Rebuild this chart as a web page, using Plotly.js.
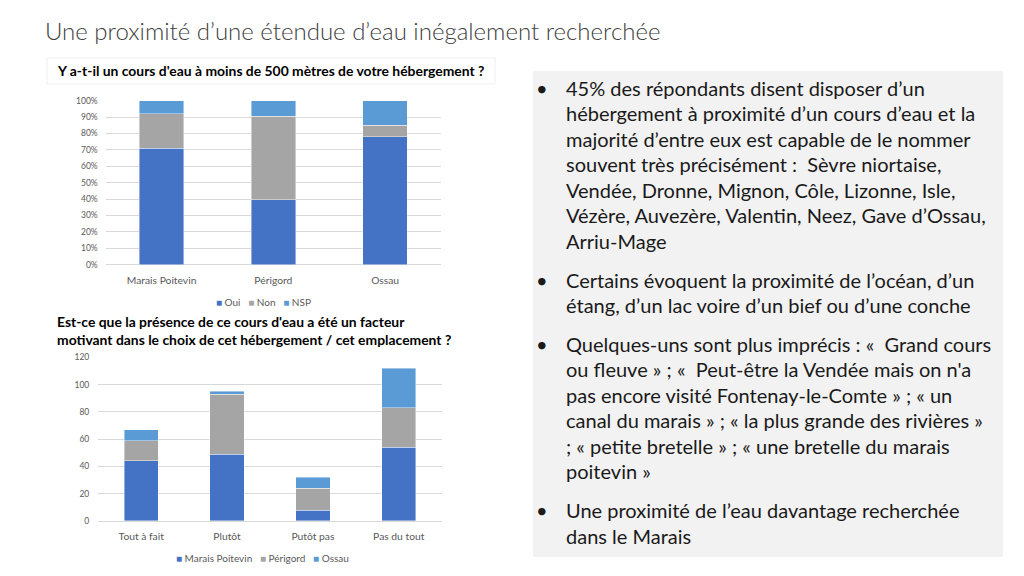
<!DOCTYPE html>
<html><head><meta charset="utf-8">
<script src="https://cdn.plot.ly/plotly-3.0.1.min.js"></script>
<style>html,body{margin:0;padding:0;background:#fff}#chart{width:1024px;height:576px}</style>
</head><body><div id="chart"></div>
<script>
// Chart 1: proximity of a watercourse (share of respondents)
const regions = ['Marais Poitevin', 'Périgord', 'Ossau'];
const oui = [0.71, 0.395, 0.78];
const non = [0.21, 0.51, 0.07];
const nsp = [0.08, 0.095, 0.15];
const answers1 = ['Oui', 'Non', 'NSP'];

// Chart 2: was it a motivating factor (counts)
const answers = ['Tout à fait', 'Plutôt', 'Putôt pas', 'Pas du tout'];
const marais = [44, 49, 8, 54];
const perigord = [15, 44, 16, 29];
const ossau = [8, 2, 8, 29];

const BLUE = '#4472C4', GRAY = '#A5A5A5', LBLUE = '#5B9BD5';
const COLORS = [BLUE, GRAY, LBLUE];
const FONT = 'Lato, "Open Sans", sans-serif';
const W = 1024, H = 576;
const px = x => x / W, py = y => 1 - y / H;

const s1 = [oui, non, nsp];
const s2 = [marais, perigord, ossau];
const traces = [];
const segLine = {color:'rgba(255,255,255,0.7)', width:0.6};
s1.forEach((v, i) => traces.push({type:'bar', x:regions, y:v, name:answers1[i],
  marker:{color:COLORS[i], line:segLine}, xaxis:'x', yaxis:'y', showlegend:false}));
s2.forEach((v, i) => traces.push({type:'bar', x:answers, y:v, name:regions[i],
  marker:{color:COLORS[i], line:segLine}, xaxis:'x2', yaxis:'y2', showlegend:false}));

const tickFont = {family:FONT, size:8.5, color:'#595959'};
const catFont = {family:FONT, size:10.3, color:'#595959'};
const gridColor = '#D9D9D9';

const bullets = [
  {y:88, t:'45% des répondants disent disposer d’un', b:true},
  {y:113, t:'hébergement à proximité d’un cours d’eau et la'},
  {y:139, t:'majorité d’entre eux est capable de le nommer'},
  {y:164, t:'souvent très précisément :  Sèvre niortaise,'},
  {y:190, t:'Vendée, Dronne, Mignon, Côle, Lizonne, Isle,'},
  {y:215, t:'Vézère, Auvezère, Valentin, Neez, Gave d’Ossau,'},
  {y:241, t:'Arriu-Mage'},
  {y:280, t:'Certains évoquent la proximité de l’océan, d’un', b:true},
  {y:305, t:'étang, d’un lac voire d’un bief ou d’une conche'},
  {y:344, t:'Quelques-uns sont plus imprécis : «  Grand cours', b:true},
  {y:369, t:'ou fleuve » ; «  Peut-être la Vendée mais on n\'a'},
  {y:395, t:'pas encore visité Fontenay-le-Comte » ; « un'},
  {y:420, t:'canal du marais » ; « la plus grande des rivières »'},
  {y:446, t:'; « petite bretelle » ; « une bretelle du marais'},
  {y:471, t:'poitevin »'},
  {y:510, t:'Une proximité de l’eau davantage recherchée', b:true},
  {y:536, t:'dans le Marais'}
];

const titleFont = {family:FONT, size:13.9, color:'#000'};
const annotations = [
  {text:'<b>Y a-t-il un cours d\'eau à moins de 500 mètres de votre hébergement ?</b>',
   x:px(55), y:py(71), xanchor:'left', yanchor:'middle', font:titleFont},
  {text:'<b>Est-ce que la présence de ce cours d\'eau a été un facteur</b>',
   x:px(55), y:py(321.5), xanchor:'left', yanchor:'middle', font:titleFont},
  {text:'<b>motivant dans le choix de cet hébergement / cet emplacement ?</b>',
   x:px(55), y:py(339), xanchor:'left', yanchor:'middle', font:titleFont}
];

// custom compact legends
const NB = '\u00A0';
function legendText(names) {
  return names.map((n, i) => '<span style="color:' + COLORS[i] + '">■</span>' + NB + n).join(NB + NB + NB);
}
const legFont = {family:FONT, size:10, color:'#595959'};
annotations.push({text:legendText(answers1), x:px(263), y:py(302), xanchor:'center', yanchor:'middle', font:legFont});
annotations.push({text:legendText(regions), x:px(262.5), y:py(558), xanchor:'center', yanchor:'middle', font:legFont});

const bodyFont = {family:FONT, size:20, color:'#1a1a1a'};
bullets.forEach(l => {
  annotations.push({text:l.t, x:px(564), y:py(l.y), xanchor:'left', yanchor:'middle', font:bodyFont});
  if (l.b) annotations.push({text:'•', x:px(542), y:py(l.y), xanchor:'center', yanchor:'middle', font:bodyFont});
});
annotations.forEach(a => { a.xref='paper'; a.yref='paper'; a.showarrow=false; });

const layout = {
  width:W, height:H,
  margin:{l:0, r:0, t:0, b:0},
  paper_bgcolor:'#fff', plot_bgcolor:'rgba(0,0,0,0)',
  font:{family:FONT},
  title:{text:'Une proximité d’une étendue d’eau inégalement recherchée',
         x:px(45), xanchor:'left', xref:'paper', y:py(32), yanchor:'middle',
         font:{family:FONT, size:24, color:'#404040', weight:300}},
  barmode:'stack', bargap:0.6,
  showlegend:false,
  xaxis:{domain:[px(105.7), px(441)], anchor:'y', tickfont:catFont, showgrid:false,
         showline:false, ticks:'', ticklabelstandoff:8},
  yaxis:{domain:[py(264.7), py(100.7)], anchor:'x', range:[0,1], dtick:0.1,
         tickformat:'.0%', tickfont:tickFont, gridcolor:gridColor, gridwidth:1,
         zeroline:true, zerolinecolor:gridColor, zerolinewidth:1, showline:false, ticks:'', ticklabelstandoff:7},
  xaxis2:{domain:[px(98.3), px(441.7)], anchor:'y2', tickfont:catFont, showgrid:false,
          showline:false, ticks:'', ticklabelstandoff:8},
  yaxis2:{domain:[py(521), py(357.3)], anchor:'x2', range:[0,120], dtick:20,
          tickfont:tickFont, gridcolor:gridColor, gridwidth:1,
          zeroline:true, zerolinecolor:gridColor, zerolinewidth:1, showline:false, ticks:'', ticklabelstandoff:8},
  shapes:[
    {type:'rect', xref:'paper', yref:'paper', x0:px(533), x1:px(1003), y0:py(557), y1:py(71),
     fillcolor:'#F2F2F2', line:{width:0}, layer:'below'},
    {type:'rect', xref:'paper', yref:'paper', x0:px(47), x1:px(495), y0:py(84), y1:py(58),
     fillcolor:'rgba(0,0,0,0)', line:{width:1, color:'#EFEFEF'}, layer:'below'}
  ],
  annotations:annotations
};

Plotly.newPlot('chart', traces, layout, {staticPlot:true, displayModeBar:false});
</script></body></html>
